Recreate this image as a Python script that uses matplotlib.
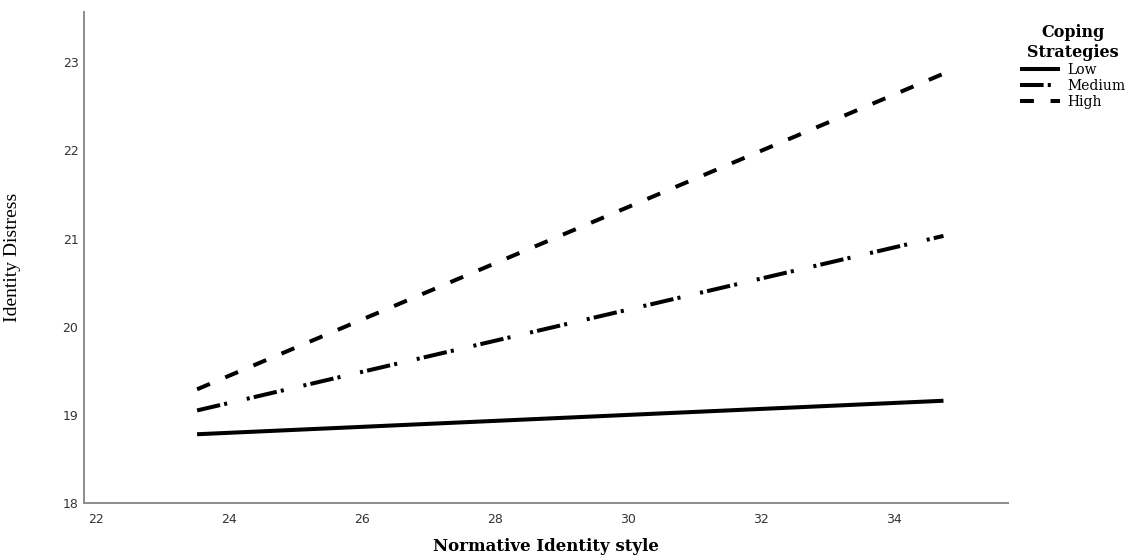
import matplotlib
matplotlib.use("Agg")
import matplotlib.pyplot as plt

# Data
x_values = [23.52, 34.74]
low = [18.78, 19.16]
medium = [19.05, 21.03]
high = [19.29, 22.87]
series_labels = ["Low", "Medium", "High"]
x_ticks = [22, 24, 26, 28, 30, 32, 34]
y_ticks = [18, 19, 20, 21, 22, 23]

plt.rcParams['lines.scale_dashes'] = False

fig = plt.figure(figsize=(11.35, 5.58), dpi=100)
ax = fig.add_axes([84/1135, 1-503/558, (1008-84)/1135, (503-12)/558])

lw = 2.9
l1, = ax.plot(x_values, low, color='black', lw=lw, solid_capstyle='butt', label=series_labels[0])
l2, = ax.plot(x_values, medium, color='black', lw=lw, dash_capstyle='butt', label=series_labels[1])
l2.set_dashes((17, 3, 2.2, 14.5, 2.2, 3))
l3, = ax.plot(x_values, high, color='black', lw=lw, dash_capstyle='butt', label=series_labels[2])
l3.set_dashes((10, 12))

ax.set_xlim(21.82, 35.71)
ax.set_ylim(18, 23.57)
ax.set_xticks(x_ticks)
ax.set_yticks(y_ticks)

for s in ['top', 'right']:
    ax.spines[s].set_visible(False)
for s in ['left', 'bottom']:
    ax.spines[s].set_color('#8c8c8c')
    ax.spines[s].set_linewidth(1.4)

ax.tick_params(axis='both', length=0, labelsize=9, labelcolor='#333333', pad=4)
ax.tick_params(axis='x', pad=7)
for t in ax.get_xticklabels() + ax.get_yticklabels():
    t.set_fontfamily('DejaVu Sans')

ax.set_xlabel("Normative Identity style", fontfamily='DejaVu Serif', fontweight='bold',
              fontsize=12, labelpad=9)
ax.set_ylabel("Identity Distress", fontfamily='Liberation Serif', fontsize=14, labelpad=30)

leg = ax.legend(handles=[l1, l2, l3], loc='upper left', bbox_to_anchor=(1013/1135, 1-17/558),
                bbox_transform=fig.transFigure, frameon=False, borderpad=0,
                handlelength=2.9, handletextpad=0.5, labelspacing=0.15,
                prop={'family': 'DejaVu Serif', 'size': 10},
                title="Coping\nStrategies",
                title_fontproperties={'family': 'DejaVu Serif', 'weight': 'bold', 'size': 11.5})
leg.get_title().set_multialignment('center')

fig.savefig("out.png", dpi=100)
